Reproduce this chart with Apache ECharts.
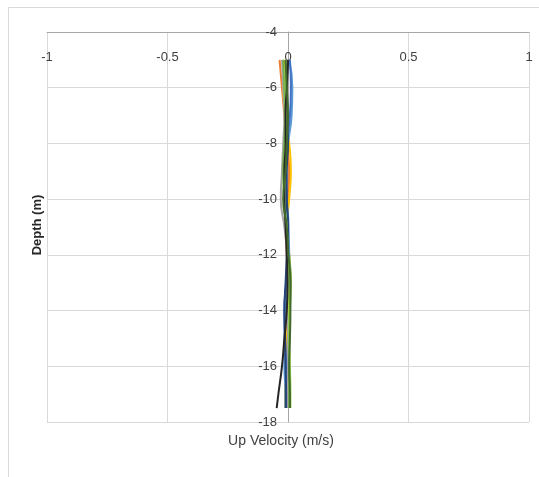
<!DOCTYPE html>
<html><head><meta charset="utf-8">
<script src="https://cdn.jsdelivr.net/npm/echarts@6/dist/echarts.min.js"></script>
<style>html,body{margin:0;padding:0;background:#fff}#c{width:539px;height:477px}</style>
</head><body><div id="c"></div>
<script>
var depths = [-5,-6,-7,-8,-9,-10,-11,-12,-13,-14,-15,-16,-17,-17.5];
var seriesNames = ['S1','S2','S3','S4','S5','S6','S7','S8','S9','S10'];
var seriesColors = ['#ED7D31','#FFC000','#A5A5A5','#70AD47','#5B9BD5','#4472C4','#264478','#92D050','#262626','#43682B'];
var s1 = [-0.035,-0.025,-0.015,-0.005,0.005,0.0,-0.01,-0.005,0.005,0.0,-0.01,-0.01,-0.005,-0.005];
var s2 = [-0.015,-0.02,-0.01,0.005,0.012,0.005,-0.005,0.005,0.01,0.0,-0.008,-0.01,-0.012,-0.012];
var s3 = [-0.025,-0.02,-0.015,-0.02,-0.025,-0.03,-0.015,-0.005,-0.005,-0.005,0.0,0.0,0.0,0.0];
var s4 = [-0.02,-0.015,-0.012,-0.015,-0.02,-0.015,-0.005,0.005,0.012,0.008,0.005,0.005,0.005,0.005];
var s5 = [0.005,0.018,0.015,0.0,-0.01,-0.01,0.0,0.005,0.0,-0.01,-0.015,-0.015,-0.01,-0.01];
var s6 = [0.008,0.012,0.008,-0.005,-0.01,-0.005,0.002,0.0,-0.008,-0.015,-0.012,-0.008,-0.01,-0.01];
var s7 = [0.0,-0.005,-0.005,0.0,-0.005,-0.005,0.0,-0.005,-0.01,-0.015,-0.012,-0.01,-0.008,-0.008];
var s8 = [-0.01,-0.01,-0.008,-0.01,-0.012,-0.015,-0.005,0.0,0.005,0.005,0.005,0.008,0.01,0.01];
var s9 = [0.0,-0.005,-0.01,-0.01,-0.015,-0.015,-0.01,-0.005,-0.002,-0.005,-0.015,-0.025,-0.04,-0.047];
var s10 = [-0.01,-0.005,0.0,-0.005,-0.01,-0.02,-0.005,0.002,0.01,0.01,0.008,0.005,0.008,0.008];
var allValues = [s1,s2,s3,s4,s5,s6,s7,s8,s9,s10];
var xTicks = [-1,-0.5,0,0.5,1];
var yTicks = [-18,-16,-14,-12,-10,-8,-6,-4];

var chart = echarts.init(document.getElementById('c'));
var font = '"Liberation Sans Narrow","Liberation Sans",sans-serif';
var gridLeft = 47, gridRight = 10;
var series = allValues.map(function(vals, i){
  return {
    name: seriesNames[i], type: 'line', smooth: true, showSymbol: false,
    lineStyle: {width: 2, color: seriesColors[i]}, itemStyle:{color: seriesColors[i]},
    data: vals.map(function(v, j){ return [v, depths[j]]; })
  };
});
chart.setOption({
  animation: false,
  grid: {left: gridLeft, right: gridRight, top: 32, bottom: 55},
  xAxis: {
    type: 'value', position: 'top', min: xTicks[0], max: xTicks[xTicks.length-1], interval: 0.5,
    axisLine: {onZero: false, lineStyle: {color: '#A6A6A6'}},
    axisTick: {show: false},
    axisLabel: {inside: true, margin: 19, color: '#404040', fontSize: 13, fontFamily: font},
    splitLine: {lineStyle: {color: '#D9D9D9'}}
  },
  yAxis: {
    type: 'value', min: yTicks[0], max: yTicks[yTicks.length-1], interval: 2,
    offset: -(539 - gridLeft - gridRight) / 2,
    axisLine: {show: true, onZero: false, lineStyle: {color: '#A6A6A6'}},
    axisTick: {show: false},
    axisLabel: {margin: 11, color: '#404040', fontSize: 13, fontFamily: font},
    splitLine: {lineStyle: {color: '#D9D9D9'}}
  },
  graphic: [
    {type: 'rect', shape: {x: 8.5, y: 7.5, width: 600, height: 600}, style: {fill: 'none', stroke: '#D9D9D9', lineWidth: 1}, silent: true, z: -1},
    {type: 'text', x: 37, y: 225, rotation: Math.PI/2, style: {text: 'Depth (m)', font: 'bold 13px "Liberation Sans",sans-serif', fill: '#262626', textAlign: 'center', textVerticalAlign: 'middle'}},
    {type: 'text', x: 281, y: 441, style: {text: 'Up Velocity (m/s)', font: '14px ' + font, fill: '#404040', textAlign: 'center', textVerticalAlign: 'middle'}}
  ],
  series: series
});
</script></body></html>
